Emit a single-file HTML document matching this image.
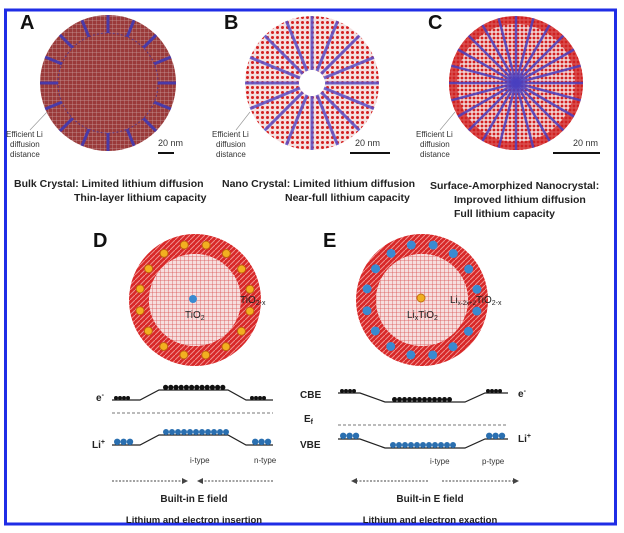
<!DOCTYPE html>
<html><head><meta charset="utf-8"><style>
body{margin:0;background:#fff;width:624px;height:533px;overflow:hidden}
svg{display:block;font-family:"Liberation Sans",sans-serif}
</style></head><body>
<svg id="fig" width="624" height="533" viewBox="0 0 624 533">
<defs>
<pattern id="gridA" width="4" height="4" patternUnits="userSpaceOnUse"><rect width="4" height="4" fill="#9a3a3a"/><path d="M0 0H4M0 0V4" stroke="#c9a0a0" stroke-width="0.7"/></pattern>
<pattern id="dotsB" width="5" height="5" patternUnits="userSpaceOnUse"><rect width="5" height="5" fill="#f4e0e0"/><circle cx="2.5" cy="2.5" r="1.5" fill="#d42020"/></pattern>
<pattern id="dotsC" width="4" height="4" patternUnits="userSpaceOnUse"><rect width="4" height="4" fill="#f0d0d0"/><circle cx="2" cy="2" r="1.4" fill="#d42020"/></pattern>
<pattern id="gridD" width="4" height="4" patternUnits="userSpaceOnUse"><rect width="4" height="4" fill="#f6dede"/><path d="M0 0H4M0 0V4" stroke="#d85050" stroke-width="0.8"/></pattern>
<pattern id="ringD" width="5" height="5" patternUnits="userSpaceOnUse"><rect width="5" height="5" fill="#d82828"/><path d="M0 5L5 0" stroke="#f09090" stroke-width="1"/></pattern>
<marker id="ah" markerWidth="6" markerHeight="6" refX="5" refY="3" orient="auto"><path d="M0 0L6 3L0 6z" fill="#444"/></marker>
</defs>
<rect x="5.5" y="10" width="610" height="514" fill="none" stroke="#1f2de6" stroke-width="3"/>
<g font-weight="bold" font-size="20" fill="#111">
<text x="20" y="29">A</text>
<text x="224" y="29">B</text>
<text x="428" y="29">C</text>
<text x="93" y="247">D</text>
<text x="323" y="247">E</text>
</g>
<circle cx="108" cy="83" r="68" fill="url(#gridA)"/>
<circle cx="108" cy="83" r="50" fill="none" stroke="#5a3a8a" stroke-width="1" stroke-dasharray="2 2"/>
<circle cx="312" cy="83" r="67" fill="url(#dotsB)"/>
<circle cx="312" cy="83" r="13" fill="#fff"/>
<circle cx="516" cy="83" r="67" fill="url(#dotsC)"/>
<circle cx="516" cy="83" r="63" fill="none" stroke="#d02020" stroke-width="8" opacity="0.75"/>
<g id="rays"></g>
<g font-size="8" fill="#333">
<text x="6" y="137">Efficient Li</text><text x="10" y="147">diffusion</text><text x="10" y="157">distance</text>
<text x="212" y="137">Efficient Li</text><text x="216" y="147">diffusion</text><text x="216" y="157">distance</text>
<text x="416" y="137">Efficient Li</text><text x="420" y="147">diffusion</text><text x="420" y="157">distance</text>
<path d="M30 130L47 112M236 130L250 112M440 130L455 112" stroke="#999" stroke-width="0.7"/>
<text x="158" y="146" font-size="9">20 nm</text><text x="355" y="146" font-size="9">20 nm</text><text x="573" y="146" font-size="9">20 nm</text>
<path d="M158 153H174M350 153H390M553 153H600" stroke="#111" stroke-width="2"/>
</g>
<g font-size="10.5" font-weight="bold" fill="#222">
<text x="14" y="187">Bulk Crystal: Limited lithium diffusion</text>
<text x="74" y="201">Thin-layer lithium capacity</text>
<text x="222" y="187">Nano Crystal: Limited lithium diffusion</text>
<text x="285" y="201">Near-full lithium capacity</text>
<text x="430" y="189">Surface-Amorphized Nanocrystal:</text>
<text x="454" y="203">Improved lithium diffusion</text>
<text x="454" y="217">Full lithium capacity</text>
</g>
<circle cx="195" cy="300" r="56" fill="none" stroke="url(#ringD)" stroke-width="20"/>
<circle cx="195" cy="300" r="46" fill="url(#gridD)"/>
<circle cx="422" cy="300" r="56" fill="none" stroke="url(#ringD)" stroke-width="20"/>
<circle cx="422" cy="300" r="46" fill="url(#gridD)"/>
<g id="ions"></g>
<circle cx="193" cy="299" r="4" fill="#3a8ad0"/><circle cx="421" cy="298" r="4" fill="#f0b020" stroke="#c07010"/>
<g font-size="10" fill="#222">
<text x="185" y="318">TiO<tspan font-size="7" dy="2">2</tspan></text>
<text x="240" y="303">TiO<tspan font-size="7" dy="2">2-x</tspan></text>
<text x="407" y="318">Li<tspan font-size="7" dy="2">x</tspan><tspan dy="-2">TiO</tspan><tspan font-size="7" dy="2">2</tspan></text>
<text x="450" y="303">Li<tspan font-size="6" dy="2">x-2x+2</tspan><tspan dy="-2">TiO</tspan><tspan font-size="7" dy="2">2-x</tspan></text>
</g>
<g fill="none" stroke="#222" stroke-width="1.2">
<path d="M112 400H140L159 390H228L246 400H273"/>
<path d="M112 445H140L159 435H228L246 445H273"/>
<path d="M338 393H360L385 402H465L485 393H508"/>
<path d="M338 439H360L385 448H465L485 439H508"/>
</g>
<path d="M112 413H273M338 425H508" stroke="#777" stroke-dasharray="3 2"/>
<g id="carriers"></g>
<g stroke="#444" stroke-dasharray="2 1.5" marker-end="url(#ah)">
<path d="M112 481H187"/><path d="M273 481H198"/><path d="M428 481H352"/><path d="M442 481H518"/>
</g>
<g font-size="10" fill="#222" font-weight="bold">
<text x="300" y="398">CBE</text><text x="304" y="422">E<tspan font-size="7" dy="2">f</tspan></text><text x="300" y="448">VBE</text>
<text x="96" y="401">e<tspan font-size="7" dy="-4">-</tspan></text><text x="92" y="448">Li<tspan font-size="7" dy="-4">+</tspan></text>
<text x="518" y="397">e<tspan font-size="7" dy="-4">-</tspan></text><text x="518" y="442">Li<tspan font-size="7" dy="-4">+</tspan></text>
<text x="194" y="502" text-anchor="middle">Built-in E field</text>
<text x="194" y="523" text-anchor="middle" font-size="9.5">Lithium and electron insertion</text>
<text x="430" y="502" text-anchor="middle">Built-in E field</text>
<text x="430" y="523" text-anchor="middle" font-size="9.5">Lithium and electron exaction</text>
</g>
<g font-size="8" fill="#333">
<text x="190" y="463">i-type</text><text x="254" y="463">n-type</text>
<text x="430" y="464">i-type</text><text x="482" y="464">p-type</text>
</g>
</svg>
<script>
const NS='http://www.w3.org/2000/svg';
function el(p,t,a){const e=document.createElementNS(NS,t);for(const k in a)e.setAttribute(k,a[k]);p.appendChild(e);return e;}
const rays=document.getElementById('rays');
for(let i=0;i<16;i++){const a=i*Math.PI/8+Math.PI/2;const c=Math.cos(a),s=Math.sin(a);
el(rays,'line',{x1:108+50*c,y1:83+50*s,x2:108+68*c,y2:83+68*s,stroke:'#4a3aa8','stroke-width':3});
el(rays,'line',{x1:312+13*c,y1:83+13*s,x2:312+67*c,y2:83+67*s,stroke:'#5a50c8','stroke-width':3,opacity:0.85});}
for(let i=0;i<24;i++){const a=i*Math.PI/12;const c=Math.cos(a),s=Math.sin(a);
el(rays,'line',{x1:516,y1:83,x2:516+67*c,y2:83+67*s,stroke:'#4a40c0','stroke-width':2.5,opacity:0.85});}
const ions=document.getElementById('ions');
for(let i=0;i<16;i++){const a=i*Math.PI/8+0.2;
el(ions,'circle',{cx:195+56*Math.cos(a),cy:300+56*Math.sin(a),r:4,fill:'#f2b020',stroke:'#c06010'});
el(ions,'circle',{cx:422+56*Math.cos(a),cy:300+56*Math.sin(a),r:4.5,fill:'#3a8ad0'});}
const car=document.getElementById('carriers');
function row(x0,n,y,r,f){for(let i=0;i<n;i++)el(car,'circle',{cx:x0+i*2*r+r,cy:y-r,r:r,fill:f});}
row(114,4,400,2,'#111');row(163,12,390,2.6,'#111');row(250,4,400,2,'#111');
row(114,3,445,3.2,'#2a6fb0');row(163,11,435,3,'#2a6fb0');row(252,3,445,3.2,'#2a6fb0');
row(340,4,393,2,'#111');row(392,12,402,2.5,'#111');row(486,4,393,2,'#111');
row(340,3,439,3.2,'#2a6fb0');row(390,11,448,3,'#2a6fb0');row(486,3,439,3.2,'#2a6fb0');
</script>
</body></html>
